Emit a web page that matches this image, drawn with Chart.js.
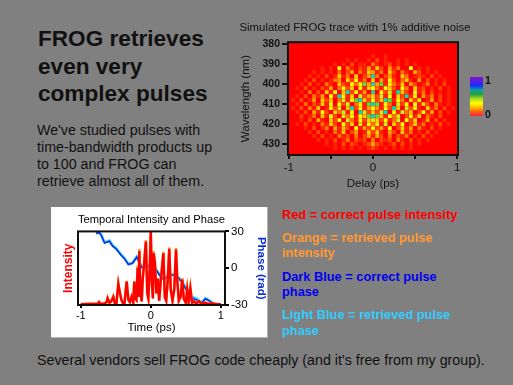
<!DOCTYPE html>
<html>
<head>
<meta charset="utf-8">
<title>FROG retrieves even very complex pulses</title>
<script src="https://cdn.jsdelivr.net/npm/chart.js@4"></script>
<style>
  html, body { margin: 0; padding: 0; }
  body { width: 513px; height: 385px; background: #808080; overflow: hidden; position: relative;
         font-family: "Liberation Sans", Arial, sans-serif; color: #111; }
  .t { position: absolute; white-space: nowrap; }
  .head { left: 38px; font-size: 22.6px; font-weight: bold; line-height: 27px; }
  .body { left: 37px; font-size: 14.25px; line-height: 17px; }
  .key { left: 282px; font-size: 12.8px; font-weight: bold; line-height: 15px; }
  #panel { position: absolute; left: 51px; top: 207px; width: 217px; height: 131px; background: #fff; }
  #panelBox { position: absolute; left: 51px; top: 207px; width: 216px; height: 130px; border: 1px solid #b4b4b4; border-width: 0 1px 1px 0; }
  canvas { filter: blur(0.35px); }
  #traceWrap { position: absolute; left: 230px; top: 15px; width: 250px; height: 180px; }
  #pulseWrap { position: absolute; left: 51px; top: 207px; width: 217px; height: 131px; }
  #bar { position: absolute; left: 470px; top: 77px; width: 13px; height: 39px; }
  #speck { position: absolute; left: 459px; top: 150px; width: 5px; height: 1px; background: #c05050; }
  .barLabel { position: absolute; left: 485px; font-size: 10.5px; font-weight: bold; line-height: 12px; }
</style>
</head>
<body>
<div class="t head" style="top:25px">FROG retrieves</div>
<div class="t head" style="top:53px">even very</div>
<div class="t head" style="top:80px">complex pulses</div>
<div class="t body" style="top:122px">We've studied pulses with</div>
<div class="t body" style="top:139px">time-bandwidth products up</div>
<div class="t body" style="top:156px">to 100 and FROG can</div>
<div class="t body" style="top:173px">retrieve almost all of them.</div>
<div class="t key" style="top:207px;color:#ff0000">Red = correct pulse intensity</div>
<div class="t key" style="top:230px;color:#ff9933">Orange = retrieved pulse</div>
<div class="t key" style="top:245px;color:#ff9933">intensity</div>
<div class="t key" style="top:269px;color:#0000ee">Dark Blue = correct pulse</div>
<div class="t key" style="top:284px;color:#0000ee">phase</div>
<div class="t key" style="top:307px;color:#33ccff">Light Blue = retrieved pulse</div>
<div class="t key" style="top:323px;color:#33ccff">phase</div>
<div class="t body" style="top:352px">Several vendors sell FROG code cheaply (and it's free from my group).</div>

<div id="panel"></div>
<div id="panelBox"></div>
<div id="pulseWrap"><canvas id="pulseChart" width="217" height="131"></canvas></div>
<div id="traceWrap"><canvas id="traceChart" width="250" height="180"></canvas></div>
<div id="speck"></div>
<div id="bar"></div>
<div class="barLabel" style="top:74px">1</div>
<div class="barLabel" style="top:108px">0</div>

<script>
// FROG trace, one string per wavelength, one digit per delay (0 = none, 9 = strongest)
const delays = [-1,-0.95,-0.9,-0.85,-0.8,-0.75,-0.7,-0.65,-0.6,-0.55,-0.5,-0.45,-0.4,-0.35,-0.3,-0.25,-0.2,-0.15,-0.1,-0.05,0,
  0.05,0.1,0.15,0.2,0.25,0.3,0.35,0.4,0.45,0.5,0.55,0.6,0.65,0.7,0.75,0.8,0.85,0.9,0.95,1];
const wavelengths = [380,382,384,386,388,390,392,394,396,398,400,402,404,406,408,410,412,414,416,418,420,422,424,426,428,430,432,434];
const traceRows = [
  "00000000000000000000000000000000000000000",
  "00000000000000000000000000000000000000000",
  "00000000000000000000000000000000000000000",
  "00000000000000000000100100000000000000000",
  "00000000000000101001020100101000000000000",
  "00000000000101020110310120101010000000000",
  "00000000101060310214152041300601010000000",
  "00000010101030240315413052031042010100000",
  "00000101020151305024930241053012102010000",
  "00001020101340526130504162035104020101000",
  "00010201031052163684948163150420130102000",
  "00102010214036250615631652063051201020100",
  "00010302051605926140906271952061302010100",
  "00102031406196150724527160529160413020100",
  "01020140525037168952625981630527014020100",
  "00103021516062703618981630726061520310100",
  "01020315016270592614641629507261051302010",
  "00102041620537160972527906173502614020100",
  "00020130516207361658985163702615031020000",
  "00010204105260731625752613706250140201000",
  "00102010315206250716361705260251301020100",
  "00001020130415206142624160251403102010000",
  "00000102010315024015251042051301020100000",
  "00000010201031203024142030213010201000000",
  "00000001010201302120302120310201010000000",
  "00000000010102021012421012020101000000000",
  "00000000000101010101210101010100000000000",
  "00000000000000000000000000000000000000000"
];
const traceColors = ["#ff0000","#ff2400","#ff4a00","#ff7800","#ffa400","#ffd000","#ffff00","#c8f020","#50e040","#10d8b0"];
const barStops = ["#8a10c8","#5020e0","#1030ff","#10a0a0","#20a040","#a8d820","#ffff00","#ffc000","#ff6010","#ff2040"];

// temporal intensity, correct and retrieved
const pulseTime = [-1,-0.9,-0.8,-0.76,-0.74,-0.72,-0.66,-0.63,-0.617,-0.59,-0.565,-0.536,-0.515,-0.49,-0.464,-0.44,-0.42,-0.4,-0.375,-0.345,-0.32,-0.3,-0.275,-0.25,-0.236,-0.22,-0.205,-0.188,-0.175,-0.164,-0.15,-0.13,-0.115,-0.1,-0.07,-0.05,-0.035,-0.015,0,0.015,0.03,0.04,0.06,0.08,0.1,0.12,0.14,0.18,0.2,0.22,0.24,0.264,0.285,0.31,0.335,0.36,0.38,0.4,0.425,0.45,0.47,0.5,0.52,0.54,0.565,0.59,0.62,0.65,0.69,0.72,0.78,0.82,0.88,0.92,1];
const intensity = [0,0.005,0.005,0.005,0.03,0.005,0.01,0.03,0.08,0.02,0.04,0.1,0.02,0.02,0.28,0.15,0.06,0.02,0.02,0.31,0.06,0.03,0.1,0.02,0.31,0.08,0.06,0.5,0.1,0.73,0.2,0.04,0.35,0.5,0.86,0.15,0.08,0.5,1,0.3,0.08,0.7,0.55,0.15,0.35,0.05,0.3,0.7,0.1,0.05,0.3,0.76,0.2,0.05,0.2,0.75,0.3,0.05,0.1,0.34,0.08,0.02,0.2,0.03,0.22,0.02,0.04,0.01,0.04,0.01,0.02,0.005,0.015,0.003,0];
const retrievedIntensity = [0,0.005,0.005,0.005,0.03,0.005,0.01,0.03,0.09,0.02,0.04,0.11,0.02,0.02,0.29,0.16,0.06,0.02,0.02,0.32,0.06,0.03,0.11,0.02,0.32,0.08,0.06,0.53,0.1,0.76,0.2,0.04,0.36,0.52,0.88,0.15,0.08,0.52,1,0.31,0.08,0.73,0.57,0.15,0.36,0.05,0.31,0.72,0.1,0.05,0.31,0.78,0.2,0.05,0.21,0.77,0.31,0.05,0.1,0.36,0.08,0.02,0.21,0.03,0.23,0.02,0.04,0.01,0.04,0.01,0.02,0.005,0.015,0.003,0];

// temporal phase, correct and retrieved
const phaseTime = [-0.78,-0.74,-0.71,-0.66,-0.59,-0.545,-0.5,-0.43,-0.38,-0.32,-0.26,-0.2,-0.16,-0.12,-0.05,0,0.07,0.14,0.19,0.25,0.31,0.38,0.45,0.52,0.59,0.66,0.725,0.78,0.83,0.88,0.92];
const phase = [28.6,29,27,20.5,22,18,16,11,8,3,4,9,4,0,2,1,-1,-7,-9.5,-6,-5.5,-7,-12,-19,-24.5,-26,-28.6,-25,-26.5,-28.6,-30];
const retrievedPhase = [28,29.5,27.5,21,22.5,18.5,16.5,11.5,8.5,3.5,4.5,9.5,4.5,0.5,2.5,1.5,-0.5,-6.5,-9,-5.5,-5,-6.5,-11,-18,-23.5,-25,-28,-24.5,-26,-28,-30];

const traceTicks = [-1,-0.5,0,0.5,1];
const traceLabels = {"-1":"-1","0":"0","1":"1"};
const pulseTicks = [-1,0,1];
const phaseTicks = [-30,0,30];

const fontName = '"Liberation Sans", Arial, sans-serif';
Chart.defaults.font.family = fontName;
Chart.defaults.color = "#111";

document.getElementById("bar").style.background = "linear-gradient(to bottom," + barStops.join(",") + ")";

const frame = {
  id: "frame",
  beforeDatasetsDraw(chart, args, opts) {
    if (!opts.fill) return;
    const a = chart.chartArea;
    chart.ctx.fillStyle = opts.fill;
    chart.ctx.fillRect(a.left, a.top, a.width, a.height);
  },
  afterDatasetsDraw(chart) {
    const a = chart.chartArea, c = chart.ctx;
    c.save();
    c.strokeStyle = "#111";
    c.lineWidth = 2;
    c.strokeRect(a.left, a.top, a.width, a.height);
    c.restore();
  }
};

const cells = [];
traceRows.forEach((row, r) => {
  delays.forEach((d, i) => {
    cells.push({x: d, y: wavelengths[r], v: Number(row[i] || 0)});
  });
});

new Chart("traceChart", {
  type: "scatter",
  data: {
    datasets: [{
      data: cells,
      pointStyle: "rect",
      pointRadius: 2.7,
      pointBorderWidth: 0,
      backgroundColor: c => traceColors[c.raw.v],
      borderWidth: 0
    }]
  },
  plugins: [frame],
  options: {
    responsive: false,
    animation: false,
    events: [],
    plugins: {
      legend: { display: false },
      tooltip: { enabled: false },
      frame: { fill: "#ff0000" },
      title: {
        display: true,
        text: "Simulated FROG trace with 1% additive noise",
        color: "#111",
        font: { size: 11.4, weight: "normal" },
        padding: { top: 6, bottom: 7.5 }
      }
    },
    scales: {
      x: {
        type: "linear",
        min: -1.01,
        max: 1.01,
        afterBuildTicks: s => { s.ticks = traceTicks.map(v => ({value: v})); },
        afterFit: s => { s.height = 40; },
        grid: { drawOnChartArea: false, color: "#111", lineWidth: 2, tickLength: 4 },
        border: { display: false },
        ticks: {
          autoSkip: false, maxRotation: 0, padding: 2,
          font: { size: 11.5 },
          callback: v => traceLabels[v] || ""
        },
        title: { display: true, text: "Delay (ps)", color: "#111", font: { size: 11.5 }, padding: { top: 1, bottom: 4 } }
      },
      y: {
        type: "linear",
        reverse: true,
        min: 379,
        max: 435.5,
        afterBuildTicks: s => { s.ticks = wavelengths.filter(w => w % 10 === 0).map(v => ({value: v})); },
        afterFit: s => { s.width = 58; },
        grid: { drawOnChartArea: false, color: "#111", lineWidth: 2, tickLength: 6 },
        border: { display: false },
        ticks: { padding: 2, font: { size: 10.5, weight: "bold" } },
        title: { display: true, text: "Wavelength (nm)", color: "#111", font: { size: 11.5 }, padding: { top: 9, bottom: 0 } }
      },
      // empty axis only holds the room for the colour bar, so the title stays centred on the canvas
      spare: {
        type: "linear",
        position: "right",
        afterFit: s => { s.width = 22; },
        grid: { display: false },
        border: { display: false },
        ticks: { display: false }
      }
    }
  }
});

const pairs = (xs, ys) => xs.map((x, i) => ({x: x, y: ys[i]}));
const lineStyle = { pointRadius: 0, tension: 0, fill: false, showLine: true };

new Chart("pulseChart", {
  type: "scatter",
  data: {
    // first dataset is painted last
    datasets: [
      Object.assign({ data: pairs(pulseTime, intensity), borderColor: "#ff0000", yAxisID: "y", borderWidth: 2.4 }, lineStyle),
      Object.assign({ data: pairs(pulseTime, retrievedIntensity), borderColor: "#ff9933", yAxisID: "y", borderWidth: 2.6 }, lineStyle),
      Object.assign({ data: pairs(phaseTime, phase), borderColor: "#1030d8", yAxisID: "y2", borderWidth: 1.6 }, lineStyle),
      Object.assign({ data: pairs(phaseTime, retrievedPhase), borderColor: "#33ccff", yAxisID: "y2", borderWidth: 2.6 }, lineStyle)
    ]
  },
  plugins: [frame],
  options: {
    responsive: false,
    animation: false,
    events: [],
    plugins: {
      legend: { display: false },
      tooltip: { enabled: false },
      frame: {},
      title: {
        display: true,
        fullSize: false,
        text: "Temporal Intensity and Phase",
        color: "#000",
        font: { size: 11.6, weight: "normal" },
        padding: { top: 6, bottom: 4.5 }
      }
    },
    scales: {
      x: {
        type: "linear",
        min: -1.04,
        max: 1.06,
        afterBuildTicks: s => { s.ticks = pulseTicks.map(v => ({value: v})); },
        afterFit: s => { s.height = 33; },
        grid: { drawOnChartArea: false, color: "#000", lineWidth: 2, tickLength: 3 },
        border: { display: false },
        ticks: { autoSkip: false, maxRotation: 0, padding: 1, color: "#000", font: { size: 11 } },
        title: { display: true, text: "Time (ps)", color: "#000", font: { size: 11.5 }, padding: { top: 0, bottom: 3 } }
      },
      y: {
        type: "linear",
        min: -0.01,
        max: 1,
        afterFit: s => { s.width = 27; },
        grid: { display: false },
        border: { display: false },
        ticks: { display: false },
        title: { display: true, text: "Intensity", color: "#ff0000", font: { size: 12, weight: "bold" }, padding: { top: 10, bottom: 0 } }
      },
      y2: {
        type: "linear",
        position: "right",
        min: -30,
        max: 30,
        afterBuildTicks: s => { s.ticks = phaseTicks.map(v => ({value: v})); },
        afterFit: s => { s.width = 43; },
        grid: { drawOnChartArea: false, color: "#000", lineWidth: 2, tickLength: 4 },
        border: { display: false },
        ticks: { padding: 2, color: "#000", font: { size: 11.5 } },
        title: { display: true, text: "Phase (rad)", color: "#1030d8", font: { size: 11.5, weight: "bold" }, padding: { top: 0, bottom: 17 } }
      }
    }
  }
});
</script>
</body>
</html>
